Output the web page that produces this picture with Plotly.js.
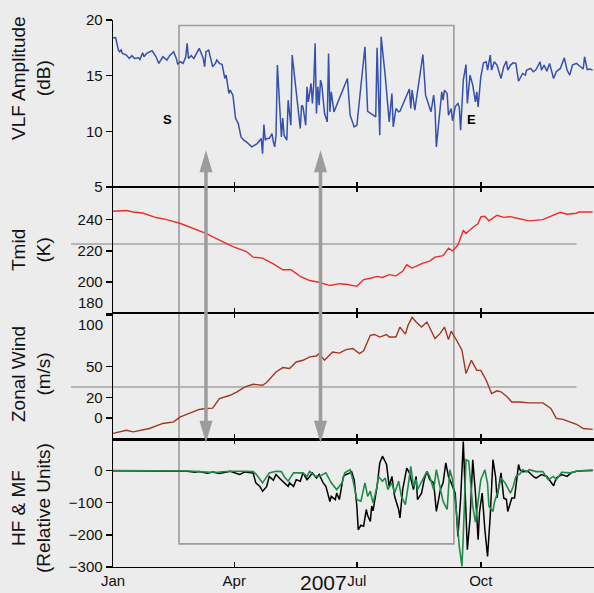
<!DOCTYPE html>
<html>
<head>
<meta charset="utf-8">
<script src="https://cdn.plot.ly/plotly-3.0.1.min.js"></script>
<style>html,body{margin:0;padding:0;background:#ececec;}#chart{width:594px;height:593px;}</style>
</head>
<body>
<div id="chart"></div>
<script>
// ---- axis / tick data ----
const monthTicks = [0, 90, 181, 273];
const monthLabels = ['Jan', 'Apr', 'Jul', 'Oct'];
const yearLabel = '2007';
const xRange = [0, 357];
const vlfTicks = [5, 10, 15, 20];
const tmidTicks = [180, 200, 220, 240];
const windTicks = [0, 20, 50, 100];
const hfTicks = [-300, -200, -100, 0];

// ---- VLF amplitude (dB) ----
const vlfDay = [0,2,4,5,6,7,10,12,14,16,19,20,22,23,25,27,29,32,34,37,40,42,45,47,48,50,52,54,55,56,58,60,62,64,66,67,68,69,71,73,74,76,77,79,81,83,84,86,87,89,91,93,95,97,99,103,107,109,110,111,112,113,114,116,118,119,120,121,122,125,126,127,129,130,132,133,136,139,140,141,143,144,145,147,148,149,150,151,152,153,154,155,157,158,159,160,161,162,164,174,176,179,181,187,189,195,196,198,199,202,205,207,208,210,212,213,220,221,222,224,226,227,230,232,234,236,237,238,239,240,244,245,246,248,249,251,252,254,256,257,258,260,262,263,265,267,269,270,271,273,275,277,278,280,281,283,285,288,290,292,293,295,297,299,301,304,306,307,310,312,314,317,318,320,322,324,327,329,332,335,337,339,341,344,347,349,350,352,354,356];
const vlfDb = [18.4,18.4,17.3,17.15,17.3,17.0,16.85,16.55,16.8,16.55,16.6,16.45,17.05,16.7,17.0,17.15,17.25,16.7,16.1,16.7,16.4,16.8,17.15,16.55,16.05,16.25,16.1,16.7,17.9,16.55,16.8,16.55,17.0,17.45,16.85,16.55,15.8,17.15,17.3,16.25,15.8,16.1,16.4,16.1,16.0,14.75,15.05,13.4,13.7,13.25,11.15,10.7,9.5,9.2,9.05,8.6,8.9,9.2,9.35,8.0,10.6,9.2,9.35,9.35,9.8,9.05,8.6,9.65,15.95,9.5,11.2,9.65,9.2,12.8,10.55,16.85,13.25,10.25,12.35,12.2,10.55,14.0,12.65,14.3,12.5,14.3,17.9,11.6,14.0,12.35,14.6,14.15,11.6,11.15,10.85,17.0,11.75,13.55,11.75,14.75,11.45,10.4,10.55,17.6,11.8,11.3,17.5,9.65,18.5,15.05,10.85,13.4,10.4,12.05,11.75,11.8,13.8,12.05,13.7,11.9,13.7,14.45,16.9,13.25,12.5,11.75,12.5,13.25,12.05,8.6,13.55,12.8,13.7,13.4,11.45,12.05,10.95,12.2,12.5,12.2,10.1,14.6,16.0,12.5,15.05,14.15,12.65,13.55,12.2,14.9,16.15,16.25,15.5,16.85,15.5,16.25,15.95,14.75,15.8,16.3,15.5,15.95,16.15,16.1,14.5,15.2,15.05,15.5,15.65,15.35,15.55,16.25,15.5,15.95,15.4,16.1,14.75,15.35,15.65,16.6,15.5,15.05,15.95,16.1,15.8,15.6,16.7,15.55,15.6,15.5];

// ---- Mid temperature (K) ----
const tmidDay = [0,7,10,15,22,32,40,50,59,69,79,89,99,104,111,119,126,132,139,146,153,161,168,174,181,186,191,196,200,205,210,215,218,222,226,230,235,239,245,249,252,256,260,262,267,271,273,276,279,285,290,295,299,309,319,327,332,337,344,346,356];
const tmidK = [245.4,245.6,245.9,245,244.3,241.4,240.1,237.6,234.4,231.2,227,222.7,219.6,216,215.4,211.7,207.9,207.9,203.7,201,199.9,197.8,199,198.5,197.3,201.6,202.5,203.7,203,204.8,204,206.9,211.1,209,210.5,212.2,213.5,216,217,221.7,220,223.8,233.3,231.2,235,237.6,241.8,242.2,239.3,242.9,241.5,242,241.1,239.3,240.1,242.9,244.8,243.5,244.2,245,245];

// ---- Zonal wind (m/s) ----
const windDay = [0,10,15,27,37,45,50,57,64,69,74,79,87,92,98,104,111,114,121,126,131,136,141,146,151,153,157,163,168,173,178,183,186,191,194,198,203,205,210,213,217,219,222,225,229,233,235,239,243,246,249,251,255,259,262,266,270,273,277,281,285,288,292,296,302,309,319,325,329,334,339,344,349,356];
const windMs = [-15.1,-12,-13.6,-10.3,-5.4,-3.9,1,4.3,8.2,9.1,9.5,18.8,22,25.3,30.1,32.7,31.7,34.4,44.7,48.9,48,54.4,56,59.3,60.2,62.5,56,64.1,63,66.4,67.5,62.5,65.2,80.3,81.1,78.6,81.1,78.6,78.6,88.3,81.5,90.1,97.8,93.3,88.3,93.2,88.3,77.1,82.4,88.3,76.1,84.4,75.5,65.8,43.1,56,46.3,46.2,36.6,23.7,26.3,25.4,21.1,15.5,15.4,14.6,14.6,9.2,-0.5,-1.4,-3.9,-6.2,-10.3,-11.2];

// ---- HF (black) and MF (green), relative units ----
const hfDay = [0,27,50,55,61,64,70,74,79,83,87,94,98,104,106,109,111,114,116,119,121,124,127,130,131,134,136,139,141,144,146,148,151,153,156,158,161,162,165,166,168,171,173,176,177,179,181,182,184,186,188,189,191,192,193,196,198,200,203,205,207,209,212,213,215,218,220,223,225,226,229,231,233,235,238,240,243,245,247,249,251,254,256,258,260,262,263,265,267,269,271,272,274,276,278,280,282,284,285,288,290,292,293,296,298,301,302,304,308,312,314,318,322,327,329,333,337,340,344,349,356];
const hfVal = [0,0,0,-2,-5,-3,-8,-4,-9,-5,-2,-12,-4,-7,-38,-49,-64,-50,-18,-30,-12,-25,-38,-49,-38,-49,-28,-33,-7,-28,-18,-7,-23,-12,-38,-49,-96,-80,-90,-70,-90,-18,-12,-7,-2,-28,-111,-184,-170,-173,-121,-140,-158,-110,-125,-49,24,45,20,-49,-18,-80,-121,-147,-59,8,-7,-59,-18,-90,-70,-28,-2,-28,-38,-127,-59,-38,24,-18,-38,-70,-205,-90,91,-100,-246,-150,34,-70,-215,-130,-70,-184,-267,-140,34,-20,-85,-7,-85,-90,-127,-85,-85,19,3,-3,-2,-18,-23,-12,-18,-47,-23,-12,-18,-7,-2,0,1];
const mfDay = [0,50,57,64,72,79,87,98,104,106,111,116,121,125,127,130,134,141,144,146,150,153,158,162,166,170,172,176,178,181,184,187,189,191,193,196,197,200,202,204,207,209,212,214,217,219,221,223,225,226,229,233,235,238,240,243,245,248,250,252,255,257,259,260,262,264,267,269,271,273,276,278,279,282,283,286,288,291,295,297,299,302,304,307,309,314,319,323,327,329,333,339,344,349,356];
const mfVal = [0,0,-1,-3,-5,-4,-2,-2,-3,-10,-38,-7,-2,-3,-18,-33,-7,-7,-18,-2,-18,-18,-7,-38,-59,-38,-7,3,-28,-90,-95,-38,-80,-64,-101,-49,-18,-33,-23,-59,-38,-70,-33,-80,-106,-49,13,-49,-28,-59,-33,-2,-18,-59,3,-59,-96,-121,3,-28,-132,-236,-298,-200,34,30,-111,-160,-90,-28,3,-40,-111,-127,-100,-60,-23,-38,-70,-50,-18,-10,3,-3,3,-3,-3,-28,-18,-28,-5,-7,-2,0,0];

// ---- reference markings ----
const windowStartDay = 49, windowEndDay = 253;
const windowTopDb = 19.5, windowBottomHF = -228;
const arrowDays = [69, 154];
const arrowTopDb = 8.3, arrowBottomHF = 87;
const tmidRefK = 224.4, windRefMs = 30;
const startMark = {day: 40.6, db: 11.06, text: 'S'};
const endMark = {day: 265.8, db: 11.1, text: 'E'};

// ---- panel geometry ----
const P = {
  y:  {dom: [0.6947, 1], range: [5, 20]},
  y2: {dom: [0.4638, 0.6947], range: [180, 261]},
  y3: {dom: [0.2331, 0.4638], range: [-21, 101.7]},
  y4: {dom: [0, 0.2331], range: [-300, 97]}
};
function yPaper(ax, v) { const p = P[ax]; return p.dom[0] + (v - p.range[0]) / (p.range[1] - p.range[0]) * (p.dom[1] - p.dom[0]); }
function xPaper(d) { return (d - xRange[0]) / (xRange[1] - xRange[0]); }

const FONT = 'Liberation Sans, Arial, Helvetica, sans-serif';
const traces = [
  {x: vlfDay, y: vlfDb, xaxis: 'x', yaxis: 'y', mode: 'lines', line: {color: '#3651ad', width: 1.5}},
  {x: tmidDay, y: tmidK, xaxis: 'x2', yaxis: 'y2', mode: 'lines', line: {color: '#ef2b2b', width: 1.4}},
  {x: windDay, y: windMs, xaxis: 'x3', yaxis: 'y3', mode: 'lines', line: {color: '#a13620', width: 1.4}},
  {x: hfDay, y: hfVal, xaxis: 'x4', yaxis: 'y4', mode: 'lines', line: {color: '#000000', width: 1.5}},
  {x: mfDay, y: mfVal, xaxis: 'x4', yaxis: 'y4', mode: 'lines', line: {color: '#1e8c48', width: 1.6}}
];

function xax(anchor, isBottom, mirror) {
  return {
    anchor: anchor, range: xRange, domain: [0, 1],
    tickvals: monthTicks, ticktext: monthLabels, showticklabels: isBottom,
    ticks: 'inside', ticklen: 5, tickwidth: 1.4, tickcolor: '#000',
    showline: true, linecolor: '#000', linewidth: 1.1, mirror: mirror,
    showgrid: false, zeroline: false,
    tickfont: {family: FONT, size: 15, color: '#111'}
  };
}
function yax(key, anchor, tv, tt) {
  return {
    anchor: anchor, domain: P[key].dom, range: P[key].range, tickvals: tv,
    ticktext: tt || tv.map(function (v) { return v < 0 ? '\u2212' + Math.abs(v) : String(v); }),
    ticks: 'outside', ticklen: 6, tickwidth: 1.4, tickcolor: '#000',
    showline: true, linecolor: '#000', linewidth: 1.4,
    showgrid: false, zeroline: false,
    tickfont: {family: FONT, size: 15, color: '#111'}
  };
}

const grey = '#9c9c9c';
const shapes = [
  {type: 'rect', xref: 'paper', yref: 'paper', layer: 'below',
   x0: xPaper(windowStartDay), x1: xPaper(windowEndDay),
   y0: yPaper('y4', windowBottomHF), y1: yPaper('y', windowTopDb),
   line: {color: grey, width: 1.6}},
  {type: 'line', xref: 'paper', yref: 'paper', layer: 'below',
   x0: -0.0873, x1: 0.9636, y0: yPaper('y2', tmidRefK), y1: yPaper('y2', tmidRefK),
   line: {color: '#a4a4a4', width: 1.6}},
  {type: 'line', xref: 'paper', yref: 'paper', layer: 'below',
   x0: -0.0873, x1: 0.9636, y0: yPaper('y3', windRefMs), y1: yPaper('y3', windRefMs),
   line: {color: '#a4a4a4', width: 1.6}}
];
const headH = 22 / 547, headW = 6.5 / 481;
arrowDays.forEach(function (d) {
  const xp = xPaper(d), yt = yPaper('y', arrowTopDb), yb = yPaper('y4', arrowBottomHF);
  shapes.push({type: 'line', xref: 'paper', yref: 'paper', x0: xp, x1: xp, y0: yt - headH + 0.005, y1: yb + headH - 0.005,
    line: {color: grey, width: 3.5}});
  shapes.push({type: 'path', xref: 'paper', yref: 'paper',
    path: 'M' + xp + ',' + yt + ' L' + (xp - headW) + ',' + (yt - headH) + ' L' + (xp + headW) + ',' + (yt - headH) + ' Z',
    fillcolor: grey, line: {width: 0}});
  shapes.push({type: 'path', xref: 'paper', yref: 'paper',
    path: 'M' + xp + ',' + yb + ' L' + (xp - headW) + ',' + (yb + headH) + ' L' + (xp + headW) + ',' + (yb + headH) + ' Z',
    fillcolor: grey, line: {width: 0}});
});

function ytitle(text, yc) {
  return {xref: 'paper', yref: 'paper', x: -0.1705, y: yc, text: text, textangle: -90,
    showarrow: false, xanchor: 'center', yanchor: 'middle',
    font: {family: FONT, size: 19, color: '#111'}};
}
// tick labels at the panel joins, nudged apart as in the original
function nudgedLabel(text, yp, anchor) {
  return {xref: 'paper', yref: 'paper', x: -0.0187, y: yp, xanchor: 'right', yanchor: anchor, text: text,
    showarrow: false, borderpad: 0, font: {family: FONT, size: 15, color: '#111'}};
}
const annotations = [
  ytitle('VLF Amplitude<br>(dB)', 0.894),
  ytitle('Tmid<br>(K)', 0.5795),
  ytitle('Zonal Wind<br>(m/s)', 0.3528),
  ytitle('HF &amp; MF<br>(Relative Units)', 0.1079),
  nudgedLabel(String(tmidTicks[0]), 0.4665, 'bottom'),
  nudgedLabel(String(windTicks[3]), 0.4600, 'top'),
  {xref: 'x', yref: 'y', x: startMark.day, y: startMark.db, text: '<b>' + startMark.text + '</b>', showarrow: false,
   font: {family: FONT, size: 13, color: '#000'}},
  {xref: 'x', yref: 'y', x: endMark.day, y: endMark.db, text: '<b>' + endMark.text + '</b>', showarrow: false,
   font: {family: FONT, size: 13, color: '#000'}},
  {xref: 'paper', yref: 'paper', x: 0.4366, y: -0.0045, xanchor: 'center', yanchor: 'top', text: yearLabel,
   showarrow: false, font: {family: FONT, size: 21, color: '#111'}}
];

const layout = {
  width: 594, height: 593,
  margin: {l: 113, r: 0, t: 20, b: 26},
  paper_bgcolor: '#ececec', plot_bgcolor: 'rgba(0,0,0,0)',
  showlegend: false,
  xaxis: xax('y', false, false),
  xaxis2: xax('y2', false, 'ticks'),
  xaxis3: xax('y3', false, 'ticks'),
  xaxis4: xax('y4', true, 'ticks'),
  yaxis: yax('y', 'x', vlfTicks),
  yaxis2: yax('y2', 'x2', tmidTicks, ['', '200', '220', '240']),
  yaxis3: yax('y3', 'x3', windTicks, ['0', '20', '50', '']),
  yaxis4: yax('y4', 'x4', hfTicks),
  shapes: shapes,
  annotations: annotations
};
Plotly.newPlot('chart', traces, layout, {displayModeBar: false, staticPlot: true});
</script>
</body>
</html>
